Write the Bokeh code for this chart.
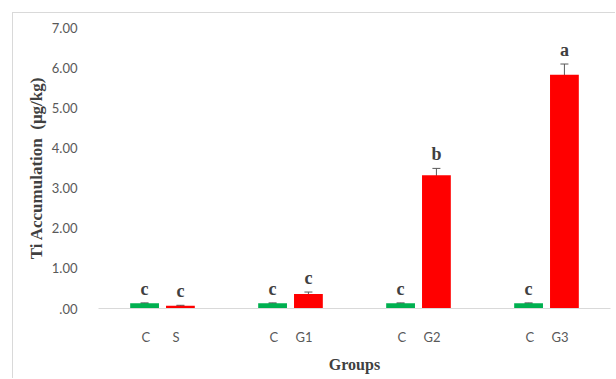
from bokeh.plotting import figure
from bokeh.models import ColumnDataSource, FixedTicker, Whisker, TeeHead
from bokeh.embed import file_html
from bokeh.resources import INLINE
from bokeh.core.properties import value

# ---- data ----
groups = ["S", "G1", "G2", "G3"]
control_label = "C"
control_means = [0.13, 0.13, 0.13, 0.13]
control_err = [0.01, 0.01, 0.01, 0.01]
treated_means = [0.07, 0.36, 3.32, 5.82]
treated_err = [0.01, 0.05, 0.17, 0.27]
control_letters = ["c", "c", "c", "c"]
treated_letters = ["c", "c", "b", "a"]
y_ticks = [0, 1, 2, 3, 4, 5, 6, 7]
y_tick_labels = [".00", "1.00", "2.00", "3.00", "4.00", "5.00", "6.00", "7.00"]

GREEN = "#00b050"
RED = "#ff0000"
TXT = "#595959"
TITLE = "#404040"
SERIF = "Liberation Serif"
SANS = "Lato"

# layout helpers (positions, not data)
n = len(groups)
off = 0.14
bw = 0.225
ctrl_x = [i + 0.5 - off for i in range(n)]
trt_x = [i + 0.5 + off for i in range(n)]
ctrl_tick = [i + 0.5 - 0.13 for i in range(n)]
trt_tick = [i + 0.5 + 0.105 for i in range(n)]

ctrl = ColumnDataSource(dict(
    x=ctrl_x, top=control_means,
    lo=[m - e for m, e in zip(control_means, control_err)],
    hi=[m + e for m, e in zip(control_means, control_err)],
    letter=control_letters))
trt = ColumnDataSource(dict(
    x=trt_x, top=treated_means,
    lo=[m - e for m, e in zip(treated_means, treated_err)],
    hi=[m + e for m, e in zip(treated_means, treated_err)],
    letter=treated_letters))

p = figure(width=603, height=366, x_range=(0, n), y_range=(0, 7),
           output_backend="svg", toolbar_location=None,
           min_border_left=85, min_border_right=6, min_border_top=14, min_border_bottom=71)
p.margin = (12, 0, 0, 12)
p.styles = {"border-top": "1px solid #d9d9d9", "border-left": "1px solid #d9d9d9"}
p.outline_line_color = None
p.background_fill_color = "white"
p.border_fill_color = "white"
p.xgrid.visible = False
p.ygrid.visible = False

for src, col in ((ctrl, GREEN), (trt, RED)):
    p.vbar(x="x", top="top", bottom=0, width=bw, source=src, fill_color=col, line_color=None)
    p.add_layout(Whisker(source=src, base="x", lower="lo", upper="hi",
                         line_color=TXT, line_width=1,
                         upper_head=TeeHead(size=8, line_color=TXT, line_width=1),
                         lower_head=TeeHead(size=8, line_color=TXT, line_width=1)))
    p.text(x="x", y="hi", text="letter", source=src, text_align="center",
           text_baseline="bottom", y_offset=-4,
           text_font=value(SERIF), text_font_style="bold", text_font_size="18px",
           text_color=TITLE)

# y axis
p.yaxis.ticker = FixedTicker(ticks=y_ticks)
p.yaxis.major_label_overrides = {t: l for t, l in zip(y_ticks, y_tick_labels)}
p.yaxis.axis_line_color = None
p.yaxis.major_tick_line_color = None
p.yaxis.minor_tick_line_color = None
p.yaxis.major_label_standoff = 15
p.yaxis.major_label_text_font = SANS
p.yaxis.major_label_text_font_size = "13px"
p.yaxis.major_label_text_color = TXT
p.yaxis.axis_label = "Ti Accumulation\u00a0\u00a0(\u03bcg/kg)"
p.yaxis.axis_label_text_font = SERIF
p.yaxis.axis_label_text_font_style = "bold"
p.yaxis.axis_label_text_font_size = "17px"
p.yaxis.axis_label_text_color = TITLE
p.yaxis.axis_label_standoff = 3

# x axis
xt = ctrl_tick + trt_tick
xl = [control_label] * n + groups
p.xaxis.ticker = FixedTicker(ticks=xt)
p.xaxis.major_label_overrides = {t: l for t, l in zip(xt, xl)}
p.xaxis.axis_line_color = "#d9d9d9"
p.xaxis.axis_line_width = 1
p.xaxis.major_tick_line_color = None
p.xaxis.minor_tick_line_color = None
p.xaxis.major_label_standoff = 14
p.xaxis.major_label_text_font = SANS
p.xaxis.major_label_text_font_size = "13px"
p.xaxis.major_label_text_color = TXT
p.xaxis.axis_label = "Groups"
p.xaxis.axis_label_text_font = SERIF
p.xaxis.axis_label_text_font_style = "bold"
p.xaxis.axis_label_text_font_size = "16px"
p.xaxis.axis_label_text_color = TITLE
p.xaxis.axis_label_standoff = 8

open("out.html", "w").write(file_html(p, INLINE))
